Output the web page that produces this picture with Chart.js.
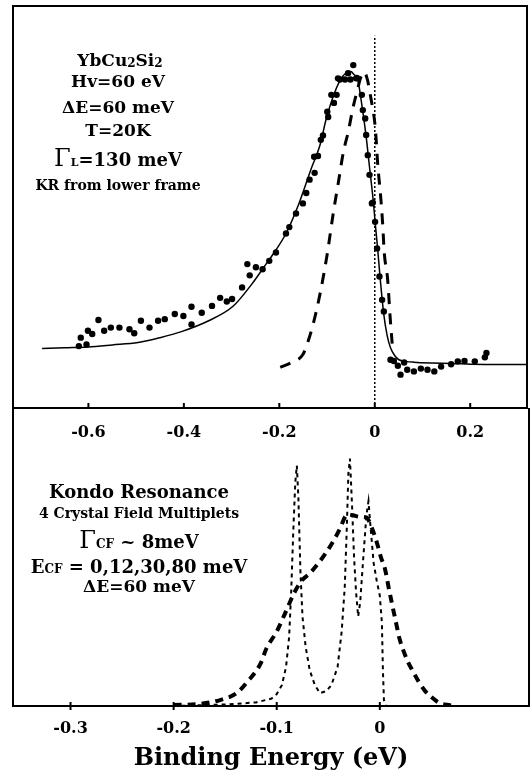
<!DOCTYPE html>
<html>
<head>
<meta charset="utf-8">
<script src="https://cdn.jsdelivr.net/npm/chart.js@4.4.1/dist/chart.umd.min.js"></script>
<style>
  body { margin: 0; background: #fff; width: 531px; height: 771px; overflow: hidden; position: relative; }
  #cima { position: absolute; left: 0; top: 0; }
  #baixo { position: absolute; left: 0; top: 408px; }
</style>
</head>
<body>
<canvas id="cima" width="531" height="445"></canvas>
<canvas id="baixo" width="531" height="363"></canvas>
<script>
// painel de cima: ajuste (linha cheia), KR alargado (tracejado), dados (pontos)
const ajusteX = [-0.697, -0.65, -0.601, -0.55, -0.496, -0.45, -0.405, -0.348, -0.297, -0.2565, -0.2355, -0.21, -0.186, -0.16, -0.133, -0.115, -0.1015, -0.084, -0.07, -0.056, -0.05, -0.044, -0.0355, -0.0285, -0.018, -0.012, -0.0027, 0.0007, 0.006, 0.011, 0.0188, 0.026, 0.033, 0.042, 0.0507, 0.065, 0.082, 0.12, 0.16, 0.202, 0.26, 0.319];
const ajusteY = [14.8, 15.0, 15.2, 15.7, 16.3, 17.5, 19.0, 21.7, 25.3, 31.0, 34.5, 38.8, 43.4, 50.5, 59.6, 65.3, 72, 78.5, 82, 83.6, 83.7, 83, 81.6, 76.6, 67.5, 61, 51, 46.3, 39.7, 32.7, 23.4, 18, 15, 13, 12, 11.6, 11.4, 11.2, 11.1, 10.9, 10.8, 10.8];

const krX = [-0.198, -0.175, -0.1506, -0.14, -0.129, -0.115, -0.1, -0.087, -0.075, -0.066, -0.055, -0.046, -0.0355, -0.03, -0.0225, -0.015, -0.011, -0.005, 0, 0.003, 0.006, 0.013, 0.0167, 0.02, 0.027, 0.032, 0.0365];
const krY = [10.1, 11.3, 13.3, 16.5, 20.9, 28.2, 38, 48.4, 57, 63.5, 69, 74.5, 79.5, 82, 83.6, 81.5, 79, 75, 71, 66.7, 61, 51.7, 45.5, 38.5, 32, 23, 16];

const pontosX = [-0.620, -0.616, -0.604, -0.601, -0.592, -0.579, -0.567, -0.553, -0.535, -0.514, -0.504, -0.49, -0.472, -0.454, -0.44, -0.419, -0.401, -0.384, -0.384, -0.3625, -0.341, -0.324, -0.31, -0.299, -0.278, -0.267, -0.262, -0.249, -0.235, -0.221, -0.207, -0.186, -0.179, -0.165, -0.1506, -0.1435, -0.1366, -0.127, -0.126, -0.119, -0.113, -0.1085, -0.0995, -0.0976, -0.091, -0.0855, -0.08, -0.077, -0.073, -0.0624, -0.056, -0.051, -0.045, -0.039, -0.0375, -0.027, -0.025, -0.02, -0.018, -0.0146, -0.011, -0.006, -0.004, 0.0007, 0.0049, 0.0098, 0.0154, 0.019, 0.033, 0.04, 0.0484, 0.054, 0.0616, 0.068, 0.082, 0.0966, 0.1105, 0.1248, 0.139, 0.16, 0.174, 0.188, 0.2096, 0.2307, 0.234];
const pontosY = [15.4, 17.5, 15.8, 19.2, 18.4, 21.9, 19.2, 20, 20, 19.6, 18.6, 21.7, 20, 21.7, 22.1, 23.4, 22.9, 25.2, 20.8, 23.7, 25.4, 27.4, 26.5, 27.1, 30, 35.8, 33, 35, 34.5, 36.6, 38.7, 43.4, 45, 48.4, 50.9, 53.5, 56.8, 62.5, 58.5, 62.7, 66.7, 67.8, 73.7, 72.4, 77.9, 75.9, 77.9, 82, 81.7, 81.7, 83.3, 81.7, 85.3, 82, 82.1, 77.9, 74.1, 72, 67.9, 62.9, 58, 50.9, 51.1, 46.3, 39.7, 32.7, 26.9, 24, 12, 11.7, 10.5, 8.3, 11.3, 9.5, 9.1, 9.8, 9.5, 9.1, 10.3, 10.9, 11.6, 11.7, 11.6, 12.6, 13.7];

const fermiX = [0, 0];
const fermiY = [0, 92.6];

const ticksCima = [-0.6, -0.4, -0.2, 0, 0.2];
const rotulosCima = ["-0.6", "-0.4", "-0.2", "0", "0.2"];

// painel de baixo: KR com 4 multipletos (fino) e alargado 60 meV (grosso)
const multX = [-0.2, -0.15, -0.12, -0.105, -0.1, -0.095, -0.091, -0.088, -0.086, -0.084, -0.082, -0.0805, -0.079, -0.077, -0.075, -0.072, -0.068, -0.063, -0.058, -0.052, -0.047, -0.041, -0.037, -0.034, -0.032, -0.0305, -0.029, -0.027, -0.025, -0.023, -0.021, -0.019, -0.016, -0.013, -0.011, -0.009, -0.006, -0.003, 0, 0.002, 0.003, 0.004, 0.006, 0.07];
const multY = [0, 0.5, 1.2, 2.5, 4, 7, 13, 23, 38, 58, 75, 80.7, 70, 45, 30, 20, 12, 7, 4.3, 5, 7, 13, 25, 40, 60, 78, 83, 68, 50, 38, 30, 35, 50, 64, 68.7, 60, 48, 42, 37, 28, 12, 2, 0, 0];

const largoX = [-0.2, -0.175, -0.155, -0.139, -0.128, -0.116, -0.11, -0.1, -0.092, -0.083, -0.076, -0.068, -0.061, -0.052, -0.044, -0.038, -0.034, -0.031, -0.026, -0.02, -0.013, -0.008, -0.003, 0.001, 0.005, 0.009, 0.012, 0.016, 0.019, 0.023, 0.027, 0.032, 0.038, 0.044, 0.05, 0.058, 0.065, 0.072];
const largoY = [0.3, 0.7, 2, 4.3, 8.3, 14, 19.3, 25, 31, 38, 42, 44.5, 47.3, 51.5, 56, 60, 63.3, 64.3, 64, 63.5, 63.3, 60, 55, 50, 46, 39, 34, 27.5, 22.7, 18.5, 15, 11.7, 8, 5, 3, 1, 0.4, 0];

const ticksBaixo = [-0.3, -0.2, -0.1, 0];
const rotulosBaixo = ["-0.3", "-0.2", "-0.1", "0"];

const pares = (xs, ys) => xs.map((x, i) => ({ x: x, y: ys[i] }));
const B = s => "bold " + s + 'px "DejaVu Serif"';
const N = s => s + 'px "DejaVu Serif"';

function escreve(ctx, cx, base, partes) {
  let w = 0;
  partes.forEach(p => { ctx.font = p[1]; w += ctx.measureText(p[0]).width; });
  let x = cx - w / 2;
  partes.forEach(p => {
    ctx.font = p[1];
    ctx.fillText(p[0], x, base + (p[2] || 0));
    x += ctx.measureText(p[0]).width;
  });
}

const moldura = {
  id: "moldura",
  afterDraw(chart, args, op) {
    const { ctx, chartArea: a } = chart;
    const sx = chart.scales.x;
    ctx.save();
    ctx.strokeStyle = "#000";
    ctx.lineWidth = 2;
    ctx.strokeRect(a.left, a.top, a.right - a.left, a.bottom - a.top);
    sx.ticks.forEach(t => {
      const px = sx.getPixelForValue(t.value);
      ctx.beginPath();
      ctx.moveTo(px, a.bottom - op.cima);
      ctx.lineTo(px, a.bottom + op.baixo);
      ctx.stroke();
    });
    ctx.fillStyle = "#000";
    ctx.textAlign = "left";
    ctx.textBaseline = "alphabetic";
    op.textos.forEach(t => escreve(ctx, t[0], t[1], t[2]));
    ctx.restore();
  }
};

function eixoX(min, max, valores, rotulos, pad, altura, titulo) {
  return {
    type: "linear", min: min, max: max,
    grid: { display: false, drawTicks: false },
    border: { display: false },
    afterBuildTicks: s => { s.ticks = valores.map(v => ({ value: v })); },
    afterFit: s => { s.height = altura; },
    ticks: {
      color: "#000", padding: pad, maxRotation: 0, autoSkip: false,
      font: { family: "DejaVu Serif", weight: "bold", size: 16 },
      callback: (v, i) => rotulos[i]
    },
    title: titulo
  };
}

new Chart(document.getElementById("cima"), {
  type: "line",
  data: {
    datasets: [
      { data: pares(ajusteX, ajusteY), borderColor: "#000", borderWidth: 1.5, pointRadius: 0, cubicInterpolationMode: "monotone" },
      { data: pares(krX, krY), borderColor: "#000", borderWidth: 3, borderDash: [11, 9], pointRadius: 0, cubicInterpolationMode: "monotone" },
      { data: pares(fermiX, fermiY), borderColor: "#000", borderWidth: 1.5, borderDash: [2, 2], pointRadius: 0 },
      { type: "scatter", data: pares(pontosX, pontosY), showLine: false, pointRadius: 3.2, pointBackgroundColor: "#000", pointBorderWidth: 0 }
    ]
  },
  options: {
    responsive: false, animation: false,
    layout: { padding: { top: 6, left: 13, right: 1, bottom: 0 } },
    plugins: {
      legend: { display: false }, tooltip: { enabled: false },
      moldura: {
        cima: 5, baixo: 1,
        textos: [
          [120, 66, [["YbCu", B(17)], ["2", B(12), 1], ["Si", B(17)], ["2", B(12), 1]]],
          [118, 87, [["Hv=60 eV", B(17)]]],
          [118, 113, [["ΔE=60 meV", B(17)]]],
          [118, 136, [["T=20K", B(17)]]],
          [118, 166, [["Γ", N(24)], ["L", B(11)], ["=130 meV", B(18)]]],
          [118, 190, [["KR from lower frame", B(14)]]]
        ]
      }
    },
    scales: {
      x: eixoX(-0.758, 0.319, ticksCima, rotulosCima, 15, 37, { display: false }),
      y: { display: false, min: 0, max: 100 }
    }
  },
  plugins: [moldura]
});

new Chart(document.getElementById("baixo"), {
  type: "line",
  data: {
    datasets: [
      { data: pares(multX, multY), borderColor: "#000", borderWidth: 2, borderDash: [4, 4], pointRadius: 0 },
      { data: pares(largoX, largoY), borderColor: "#000", borderWidth: 4, borderDash: [8, 6], pointRadius: 0, cubicInterpolationMode: "monotone" }
    ]
  },
  options: {
    responsive: false, animation: false,
    layout: { padding: { top: 0, left: 13, right: 2, bottom: 0 } },
    plugins: {
      legend: { display: false }, tooltip: { enabled: false },
      moldura: {
        cima: 4, baixo: 4,
        textos: [
          [139, 90, [["Kondo Resonance", B(18)]]],
          [139, 110, [["4 Crystal Field Multiplets", B(14)]]],
          [139, 140, [["Γ", N(24)], ["CF", B(12)], [" ~ 8meV", B(18)]]],
          [139, 165, [["E", B(18)], ["CF", B(12)], [" = 0,12,30,80 meV", B(18)]]],
          [139, 184, [["ΔE=60 meV", B(17)]]]
        ]
      }
    },
    scales: {
      x: eixoX(-0.3558, 0.1447, ticksBaixo, rotulosBaixo, 13, 65, {
        display: true, text: "Binding Energy (eV)", color: "#000",
        font: { family: "DejaVu Serif", weight: "bold", size: 24, lineHeight: 1 },
        padding: { top: 0, bottom: 0 }
      }),
      y: { display: false, min: 0, max: 100 }
    }
  },
  plugins: [moldura]
});
</script>
</body>
</html>
